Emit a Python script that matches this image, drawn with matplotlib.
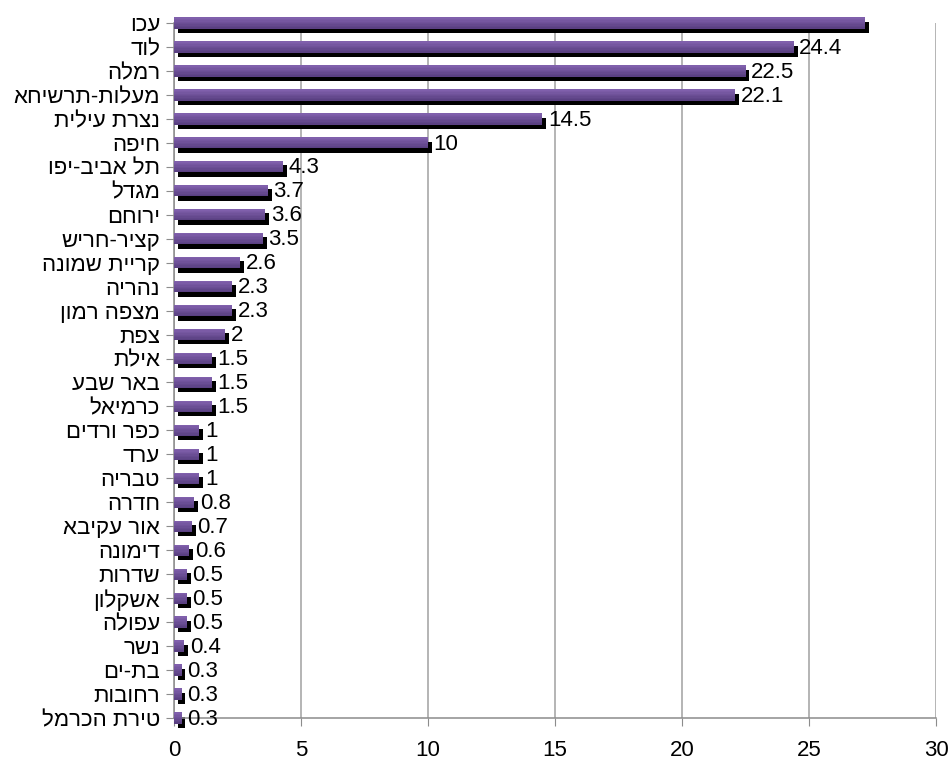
import matplotlib
matplotlib.use("Agg")
import matplotlib.pyplot as plt
import numpy as np

plt.rcParams['font.family'] = ['Liberation Sans', 'DejaVu Sans']

# cities from bottom to top
cities = ["טירת הכרמל", "רחובות", "בת-ים", "נשר", "עפולה", "אשקלון", "שדרות",
          "דימונה", "אור עקיבא", "חדרה", "טבריה", "ערד", "כפר ורדים", "כרמיאל",
          "באר שבע", "אילת", "צפת", "מצפה רמון", "נהריה", "קריית שמונה",
          "קציר-חריש", "ירוחם", "מגדל", "תל אביב-יפו", "חיפה", "נצרת עילית",
          "מעלות-תרשיחא", "רמלה", "לוד", "עכו"]
values = [0.3, 0.3, 0.3, 0.4, 0.5, 0.5, 0.5, 0.6, 0.7, 0.8, 1, 1, 1, 1.5, 1.5,
          1.5, 2, 2.3, 2.3, 2.6, 3.5, 3.6, 3.7, 4.3, 10, 14.5, 22.1, 22.5, 24.4, 27.2]
labels = ["0.3", "0.3", "0.3", "0.4", "0.5", "0.5", "0.5", "0.6", "0.7", "0.8",
          "1", "1", "1", "1.5", "1.5", "1.5", "2", "2.3", "2.3", "2.6", "3.5",
          "3.6", "3.7", "4.3", "10", "14.5", "22.1", "22.5", "24.4", ""]

fig = plt.figure(figsize=(9.49, 7.62), dpi=100)
ax = fig.add_axes([174/949, 1-718/762, (936-174)/949, (718-23)/762])

y = np.arange(len(cities))
h = 0.47
dx = 0.15   # shadow offset in x units
dy = 0.18   # shadow offset in category units

# black shadow
ax.barh(y - dy, values, height=h, left=dx, color="black", zorder=2, clip_on=False)

# purple bar with a vertical gradient
top_col = np.array([0x80, 0x60, 0xAC]) / 255
bot_col = np.array([0x5A, 0x40, 0x82]) / 255
nstrip = 8
for i in range(nstrip):
    t = i / (nstrip - 1)
    c = bot_col * (1 - t) + top_col * t
    ax.barh(y - h/2 + (i + 0.5) * h / nstrip, values, height=h / nstrip * 1.02,
            color=c, zorder=3, clip_on=False, linewidth=0)

for yi, v, lab in zip(y, values, labels):
    if lab:
        ax.text(v + dx + 0.07, yi - 0.05, lab, va="center", ha="left",
                fontsize=16, zorder=4, clip_on=False)

ax.set_xlim(0, 30)
ax.set_ylim(0, len(cities) - 1)
ax.set_xticks(np.arange(0, 31, 5))
ax.set_yticks(y)
# text is drawn in the same glyph order as the reference
ax.set_yticklabels([c[::-1] for c in cities])
ax.tick_params(axis="y", length=6, color="#8c8c8c", labelsize=16, pad=4)
ax.tick_params(axis="x", length=6, color="#8c8c8c", labelsize=16, pad=10)
ax.xaxis.grid(True, color="#a0a0a0", linewidth=1.1, zorder=0)
ax.set_axisbelow(True)
for s in ["top", "right"]:
    ax.spines[s].set_visible(False)
for s in ["left", "bottom"]:
    ax.spines[s].set_color("#8c8c8c")
    ax.spines[s].set_linewidth(1.1)

fig.savefig("out.png", dpi=100)
